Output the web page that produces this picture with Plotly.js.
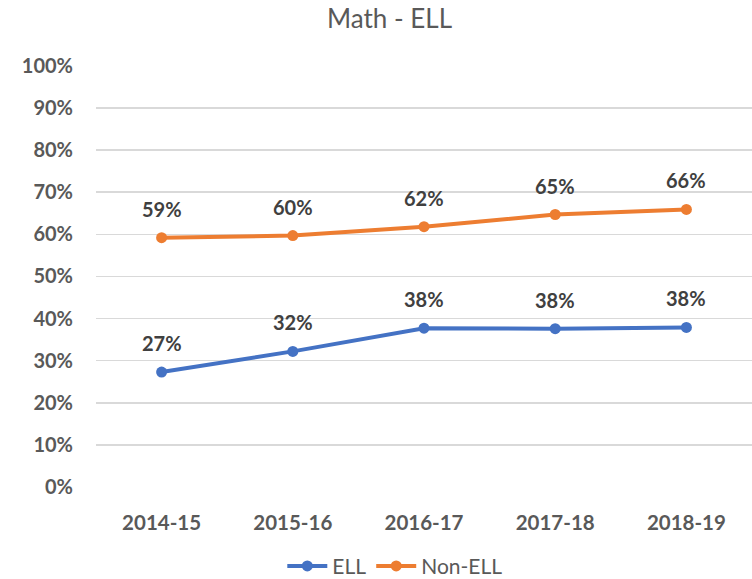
<!DOCTYPE html>
<html>
<head>
<meta charset="utf-8">
<script src="https://cdn.plot.ly/plotly-3.0.1.min.js"></script>
<style>
  html, body { margin: 0; padding: 0; background: #fff; }
  #chart { width: 752px; height: 579px; }
</style>
</head>
<body>
<div id="chart"></div>
<script>
// Math - ELL, share proficient by year
const years = ['2014-15', '2015-16', '2016-17', '2017-18', '2018-19'];
const ell = [0.273, 0.322, 0.377, 0.376, 0.379];
const nonEll = [0.592, 0.597, 0.618, 0.647, 0.659];

const blue = '#4472C4';
const orange = '#ED7D31';
const font = 'Lato, "Open Sans", sans-serif';

function series(name, values, color) {
    return {
        x: years,
        y: values,
        name: name,
        type: 'scatter',
        mode: 'lines+markers',
        line: { color: color, width: 4 },
        marker: { color: color, size: 11 }
    };
}

// value labels above each point
function labels(values) {
    return values.map((v, i) => ({
        x: years[i],
        y: v,
        text: Math.round(v * 100) + '%',
        showarrow: false,
        yshift: 29,
        font: { family: font, size: 20, color: '#404040', weight: 'bold' }
    }));
}

const data = [series('ELL', ell, blue), series('Non-ELL', nonEll, orange)];

const layout = {
    width: 752,
    height: 579,
    margin: { l: 96, r: 0, t: 65, b: 92 },
    paper_bgcolor: '#fff',
    plot_bgcolor: '#fff',
    font: { family: font, color: '#595959' },
    title: {
        text: 'Math - ELL',
        x: 0.518,
        xanchor: 'center',
        y: 0.968,
        yanchor: 'middle',
        font: { family: font, size: 26, color: '#595959' }
    },
    xaxis: {
        type: 'category',
        range: [-0.5, 4.5],
        automargin: false,
        showgrid: false,
        zeroline: false,
        showline: false,
        ticks: 'outside',
        ticklen: 17,
        tickcolor: 'rgba(0,0,0,0)',
        tickfont: { family: font, size: 20.5, color: '#595959', weight: 'bold' },
        fixedrange: true
    },
    yaxis: {
        range: [0, 1.002],
        automargin: false,
        dtick: 0.1,
        tickformat: '.0%',
        showgrid: true,
        gridcolor: '#d9d9d9',
        gridwidth: 1.5,
        zeroline: false,
        showline: false,
        ticks: 'outside',
        ticklen: 18,
        tickcolor: 'rgba(0,0,0,0)',
        tickfont: { family: font, size: 20, color: '#595959', weight: 'bold' },
        fixedrange: true
    },
    legend: {
        orientation: 'h',
        xref: 'container',
        yref: 'container',
        x: 0.525,
        xanchor: 'center',
        y: 0.022,
        yanchor: 'middle',
        font: { family: font, size: 21, color: '#595959' },
        itemwidth: 40
    },
    annotations: labels(ell).concat(labels(nonEll)),
    showlegend: true
};

Plotly.newPlot('chart', data, layout, { displayModeBar: false, staticPlot: true });
</script>
</body>
</html>
